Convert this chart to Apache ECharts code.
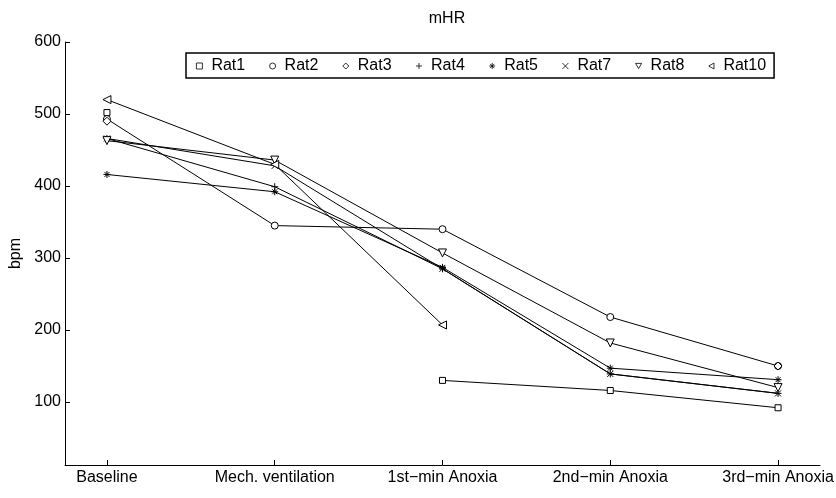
<!DOCTYPE html>
<html>
<head>
<meta charset="utf-8">
<script src="https://cdn.jsdelivr.net/npm/echarts@6/dist/echarts.min.js"></script>
<style>
  html, body { margin: 0; padding: 0; background: #fff; }
  #mhr { width: 836px; height: 498px; }
</style>
</head>
<body>
<div id="mhr"></div>
<script>
  // x categories (stage of the experiment)
  const stages = ['Baseline', 'Mech. ventilation', '1st\u2212min Anoxia', '2nd\u2212min Anoxia', '3rd\u2212min Anoxia']
  const yTicks = [100, 200, 300, 400, 500, 600]

  // heart rate per rat, null = missing
  const rat1 = [502, null, 130, 116, 92]
  const rat2 = [493, 345, 340, 218, 150]
  const rat3 = [490, null, null, null, 150]
  const rat4 = [466, 399, 285, 139, 112]
  const rat5 = [416, 392, 287, 147, 131]
  const rat7 = [466, 428, 285, 139, 112]
  const rat8 = [463, 436, 307, 182, 120]
  const rat10 = [520, 430, 207, null, null]

  const font = '"Liberation Sans", Arial, Helvetica, sans-serif'
  const hollow = { color: '#fff', borderColor: '#000', borderWidth: 1 }
  const stroke = { color: '#000', borderColor: '#000', borderWidth: 1 }

  // matlab style markers
  const rats = [
    { name: 'Rat1', values: rat1, symbol: 'rect', size: 6, style: hollow },
    { name: 'Rat2', values: rat2, symbol: 'circle', size: 7, style: hollow },
    { name: 'Rat3', values: rat3, symbol: 'diamond', size: 8, style: hollow },
    { name: 'Rat4', values: rat4, symbol: 'path://M0,5L10,5M5,0L5,10', size: 7, style: stroke },
    { name: 'Rat5', values: rat5, symbol: 'path://M0,5L10,5M5,0L5,10M1.5,1.5L8.5,8.5M8.5,1.5L1.5,8.5', size: 7, style: stroke },
    { name: 'Rat7', values: rat7, symbol: 'path://M0,0L10,10M10,0L0,10', size: 6, style: stroke },
    { name: 'Rat8', values: rat8, symbol: 'path://M0,0L10,0L5,8.66Z', size: 8, style: hollow },
    { name: 'Rat10', values: rat10, symbol: 'path://M8.66,0L8.66,10L0,5Z', size: 8, style: hollow }
  ]

  let chart = echarts.init(document.getElementById('mhr'))
  chart.setOption({
    animation: false,
    backgroundColor: '#fff',
    textStyle: { fontFamily: font },
    title: {
      text: 'mHR',
      left: 442,
      textAlign: 'center',
      top: 6,
      textStyle: { fontFamily: font, fontSize: 16, fontWeight: 'normal', color: '#000' }
    },
    legend: {
      left: 186,
      top: 53,
      padding: [5, 8, 4, 10],
      borderColor: '#000',
      borderWidth: 1.5,
      itemWidth: 6,
      itemHeight: 6,
      itemGap: 24,
      itemStyle: { borderWidth: 0.8, borderColor: '#000' },
      textStyle: { fontFamily: font, fontSize: 16, color: '#000', padding: [0, 0, 0, 4] },
      data: rats.map(r => ({ name: r.name, icon: r.symbol }))
    },
    grid: {
      left: 65,
      right: 16,
      top: 42,
      bottom: 33,
      outerBoundsMode: 'none'
    },
    xAxis: {
      type: 'value',
      min: 0.75,
      max: 5.25,
      splitLine: { show: false },
      axisLine: { show: true, onZero: false, lineStyle: { color: '#000', width: 1 } },
      axisTick: { show: true, inside: true, length: 5, customValues: [1, 2, 3, 4, 5], lineStyle: { color: '#000' } },
      axisLabel: {
        customValues: [1, 2, 3, 4, 5],
        formatter: v => stages[Math.round(v) - 1],
        color: '#000',
        fontSize: 16,
        fontFamily: font,
        margin: 5
      }
    },
    yAxis: {
      type: 'value',
      min: 12.5,
      max: 600,
      name: 'bpm',
      nameLocation: 'middle',
      nameGap: 35,
      nameTextStyle: { fontFamily: font, fontSize: 16, color: '#000' },
      splitLine: { show: false },
      axisLine: { show: true, onZero: false, lineStyle: { color: '#000', width: 1 } },
      axisTick: { show: true, inside: true, length: 5, customValues: yTicks, lineStyle: { color: '#000' } },
      axisLabel: {
        customValues: yTicks,
        color: '#000',
        fontSize: 16,
        fontFamily: font,
        margin: 4
      }
    },
    series: rats.map(r => ({
      name: r.name,
      type: 'line',
      data: r.values.map((v, i) => [i + 1, v === null ? '-' : v]),
      symbol: r.symbol,
      symbolSize: r.size,
      showSymbol: true,
      connectNulls: false,
      itemStyle: r.style,
      lineStyle: { color: '#000', width: 1 },
      emphasis: { disabled: true }
    }))
  })
</script>
</body>
</html>
